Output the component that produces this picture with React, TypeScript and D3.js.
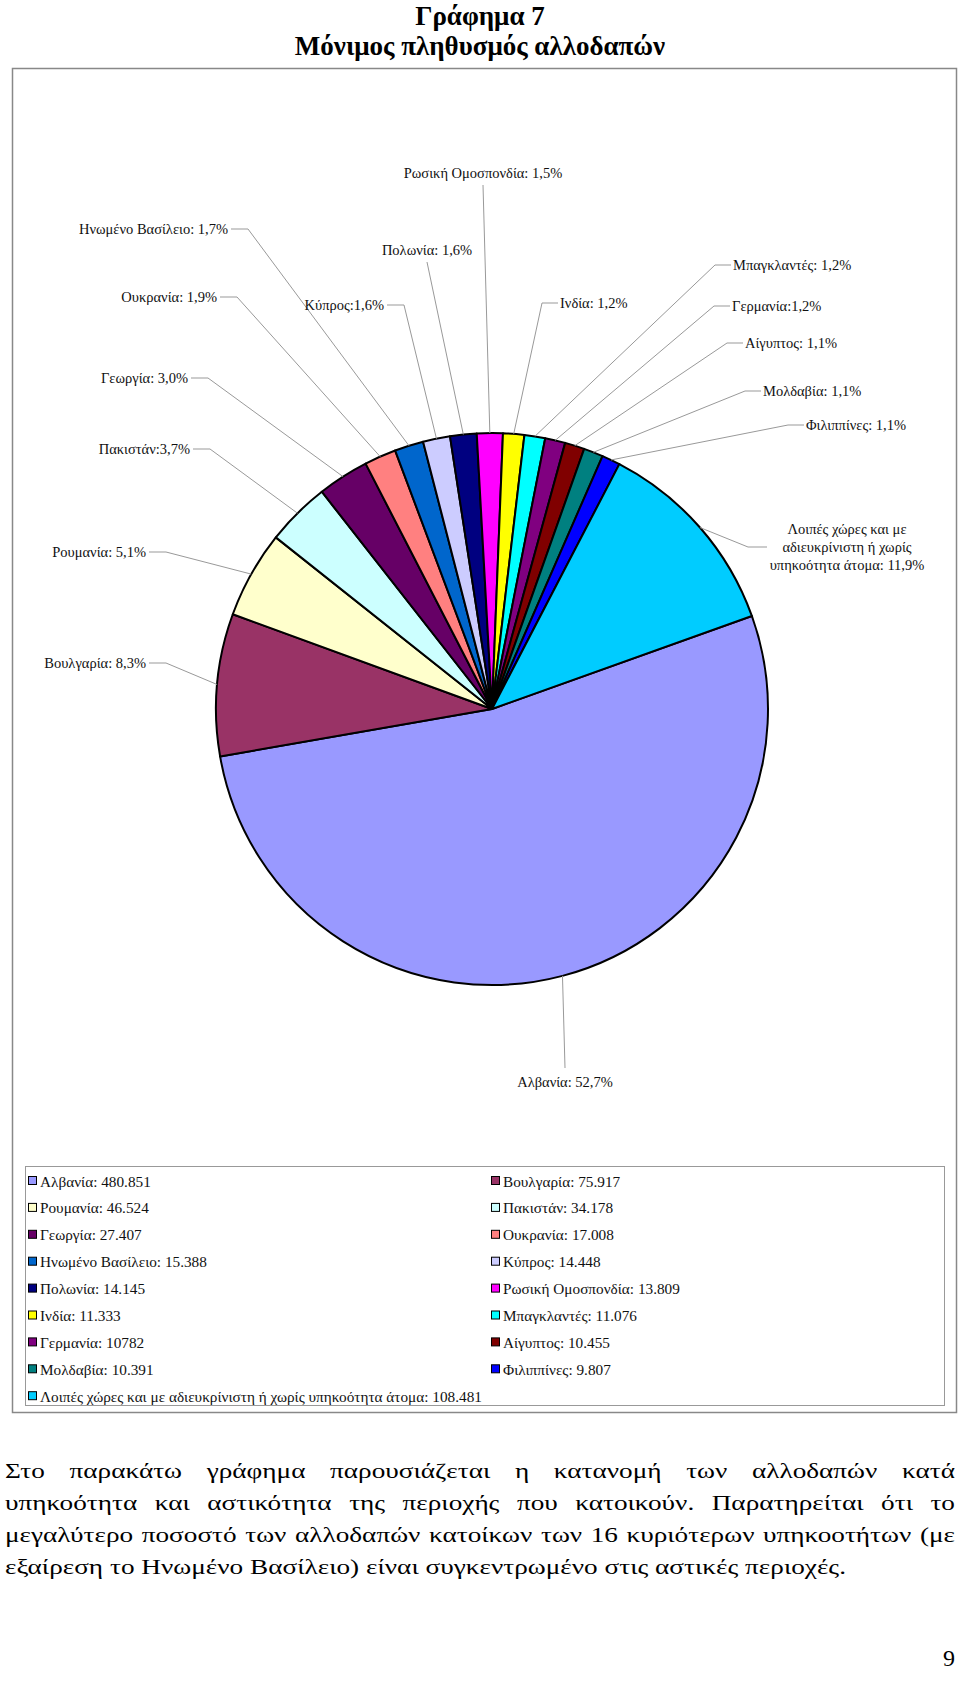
import * as d3 from "d3";
import { useMemo } from "react";

const W = 960;
const H = 1687;

// data
const countries = [
  "Αλβανία",
  "Βουλγαρία",
  "Ρουμανία",
  "Πακιστάν",
  "Γεωργία",
  "Ουκρανία",
  "Ηνωμένο Βασίλειο",
  "Κύπρος",
  "Πολωνία",
  "Ρωσική Ομοσπονδία",
  "Ινδία",
  "Μπαγκλαντές",
  "Γερμανία",
  "Αίγυπτος",
  "Μολδαβία",
  "Φιλιππίνες",
  "Λοιπές χώρες και με αδιευκρίνιστη ή χωρίς υπηκοότητα άτομα",
];
const residents = [
  480851, 75917, 46524, 34178, 27407, 17008, 15388, 14448, 14145, 13809, 11333,
  11076, 10782, 10455, 10391, 9807, 108481,
];
const sliceColors = [
  "#9999FF", "#993366", "#FFFFCC", "#CCFFFF", "#660066", "#FF8080", "#0066CC",
  "#CCCCFF", "#000080", "#FF00FF", "#FFFF00", "#00FFFF", "#800080", "#800000",
  "#008080", "#0000FF", "#00CCFF",
];
// separators as printed in the pie labels
const labelSeparators = [
  ": ", ": ", ": ", ":", ": ", ": ", ": ", ":", ": ", ": ", ": ", ": ", ":",
  ": ", ": ", ": ", ": ",
];
// legend prints this one without thousands dot
const legendUngrouped = ["Γερμανία"];

const titleLines = ["Γράφημα 7", "Μόνιμος πληθυσμός αλλοδαπών"];
const paragraph = [
  "Στο παρακάτω γράφημα παρουσιάζεται η κατανομή των αλλοδαπών κατά",
  "υπηκοότητα και αστικότητα της περιοχής που κατοικούν. Παρατηρείται ότι το",
  "μεγαλύτερο ποσοστό των αλλοδαπών κατοίκων των 16 κυριότερων υπηκοοτήτων (με",
  "εξαίρεση το Ηνωμένο Βασίλειο) είναι συγκεντρωμένο στις αστικές περιοχές.",
];
const pageNumber = "9";

// layout
const cx = 492;
const cy = 709;
const R = 276;
const startDeg = 70.3;
const serif = "'Liberation Serif', 'Times New Roman', Times, serif";
const baseSize = 14.5;
const bodyScaleY = 21 / baseSize;
const legendLongestWidth = 442; // width of the last legend row in the picture

// label placement: x, y (visual centre), kind
const labelLayout: [number, number, string][] = [
  [565, 1082, "below"],
  [146, 663, "left"],
  [146, 552, "left"],
  [190, 449, "left"],
  [188, 378, "left"],
  [217, 297, "left"],
  [228, 229, "left"],
  [384, 305, "left"],
  [427, 250, "above"],
  [483, 173, "above"],
  [560, 303, "right"],
  [733, 265, "right"],
  [732, 306, "right"],
  [745, 343, "right"],
  [763, 391, "right"],
  [806, 425, "right"],
  [847, 547, "block"],
];

const pctFmt = d3.format(".1f");
const locale = d3.formatLocale({
  decimal: ",",
  thousands: ".",
  grouping: [3],
  currency: ["", "€"],
});
const grouped = locale.format(",d");

function measurer() {
  const ctx = document.createElement("canvas").getContext("2d")!;
  return (s: string, font: string) => {
    ctx.font = font;
    return ctx.measureText(s).width;
  };
}

export default function App() {
  const total = d3.sum(residents);
  const startRad = (startDeg * Math.PI) / 180;

  const arcs = d3
    .pie<number>()
    .sort(null)
    .value((d) => d)
    .startAngle(startRad)
    .endAngle(startRad + 2 * Math.PI)(residents);

  const arcGen = d3
    .arc<d3.PieArcDatum<number>>()
    .innerRadius(0)
    .outerRadius(R);

  const legendTexts = countries.map((c, i) => {
    const v = legendUngrouped.includes(c) ? String(residents[i]) : grouped(residents[i]);
    return `${c}: ${v}`;
  });

  // justified paragraph + legend scale, from measured widths
  const { words, sx, legendScale } = useMemo(() => {
    const measure = measurer();
    const font = `${baseSize}px ${serif}`;
    const sx = 841 / measure(paragraph[paragraph.length - 1], font);
    const out: { t: string; x: number; y: number }[] = [];
    paragraph.forEach((line, li) => {
      const ws = line.split(" ");
      const widths = ws.map((w) => measure(w, font) * sx);
      const last = li === paragraph.length - 1;
      const gap = last
        ? measure(" ", font) * sx
        : (950 - d3.sum(widths)) / (ws.length - 1);
      let x = 5;
      ws.forEach((w, i) => {
        out.push({ t: w, x, y: 1478 + li * 32 });
        x += widths[i] + gap;
      });
    });
    const longest = d3.max(legendTexts, (t) => measure(t, font))!;
    return { words: out, sx, legendScale: legendLongestWidth / longest };
  }, []);

  const labels = arcs.map((a, i) => {
    const mid = (a.startAngle + a.endAngle) / 2;
    const ex = cx + R * Math.sin(mid);
    const ey = cy - R * Math.cos(mid);
    const pct = pctFmt((residents[i] / total) * 100).replace(".", ",");
    const text = countries[i] + labelSeparators[i] + pct + "%";
    const [lx, ly, kind] = labelLayout[i];
    return { i, ex, ey, text, lx, ly, kind };
  });

  const legendRowY = (r: number) => 1181 + r * 26.9;
  const legendColX = [28, 491];

  return (
    <svg
      width={W}
      height={H}
      style={{ position: "absolute", left: 0, top: 0, background: "#fff" }}
    >
      {/* title */}
      {titleLines.map((t, i) => (
        <text
          key={t}
          x={480}
          y={25 + i * 30}
          textAnchor="middle"
          fontFamily={serif}
          fontWeight="bold"
          fontSize={27}
        >
          {t}
        </text>
      ))}

      {/* chart frame */}
      <rect x={12.5} y={68.5} width={944} height={1344} fill="none" stroke="#888" strokeWidth={1.5} />

      {/* pie */}
      <g transform={`translate(${cx},${cy})`}>
        {arcs.map((a, i) => (
          <path
            key={i}
            d={arcGen(a)!}
            fill={sliceColors[i]}
            stroke="#000"
            strokeWidth={2}
            strokeLinejoin="round"
          />
        ))}
      </g>

      {/* leader lines + labels */}
      <g fontFamily={serif} fontSize={baseSize} fill="#111">
        {labels.map((l) => {
          const base = l.ly + 5;
          if (l.kind === "left") {
            const x1 = l.lx + 3;
            const x2 = l.lx + 20;
            return (
              <g key={l.i}>
                <polyline points={`${x1},${l.ly} ${x2},${l.ly} ${l.ex},${l.ey}`} fill="none" stroke="#999" strokeWidth={1} />
                <text x={l.lx} y={base} textAnchor="end">{l.text}</text>
              </g>
            );
          }
          if (l.kind === "right") {
            const x1 = l.lx - 2;
            const x2 = l.lx - 18;
            return (
              <g key={l.i}>
                <polyline points={`${x1},${l.ly} ${x2},${l.ly} ${l.ex},${l.ey}`} fill="none" stroke="#999" strokeWidth={1} />
                <text x={l.lx} y={base}>{l.text}</text>
              </g>
            );
          }
          if (l.kind === "above") {
            return (
              <g key={l.i}>
                <line x1={l.lx} y1={l.ly + 12} x2={l.ex} y2={l.ey} stroke="#999" strokeWidth={1} />
                <text x={l.lx} y={base} textAnchor="middle">{l.text}</text>
              </g>
            );
          }
          if (l.kind === "below") {
            return (
              <g key={l.i}>
                <line x1={l.ex} y1={l.ey} x2={l.lx} y2={l.ly - 14} stroke="#999" strokeWidth={1} />
                <text x={l.lx} y={base} textAnchor="middle">{l.text}</text>
              </g>
            );
          }
          // wrapped block label
          const ws = l.text.split(" ");
          const lines = [ws.slice(0, 4).join(" "), ws.slice(4, 7).join(" "), ws.slice(7).join(" ")];
          return (
            <g key={l.i}>
              <polyline points={`${l.lx - 80},${l.ly} ${l.lx - 99},${l.ly} ${l.ex},${l.ey}`} fill="none" stroke="#999" strokeWidth={1} />
              {lines.map((t, k) => (
                <text key={k} x={l.lx} y={l.ly - 18 + k * 18 + 5} textAnchor="middle">{t}</text>
              ))}
            </g>
          );
        })}
      </g>

      {/* legend */}
      <rect x={25.5} y={1166.5} width={919} height={239} fill="none" stroke="#999" strokeWidth={1} />
      <g fontFamily={serif} fontSize={baseSize} fill="#111">
        {legendTexts.map((t, i) => {
          const row = Math.floor(i / 2);
          const x = legendColX[i % 2];
          const y = legendRowY(row);
          return (
            <g key={t}>
              <rect x={x + 0.5} y={y - 4.5} width={8} height={8} fill={sliceColors[i]} stroke="#000" strokeWidth={1} />
              <text transform={`translate(${x + 12},${y + 5.5}) scale(${legendScale})`}>{t}</text>
            </g>
          );
        })}
      </g>

      {/* body text */}
      <g fontFamily={serif} fontSize={baseSize} fill="#000">
        {words.map((w, i) => (
          <text key={i} transform={`translate(${w.x},${w.y}) scale(${sx},${bodyScaleY})`}>
            {w.t}
          </text>
        ))}
      </g>
      <text
        transform={`translate(955,1666) scale(${24 / baseSize})`}
        textAnchor="end"
        fontFamily={serif}
        fontSize={baseSize}
      >
        {pageNumber}
      </text>
    </svg>
  );
}
